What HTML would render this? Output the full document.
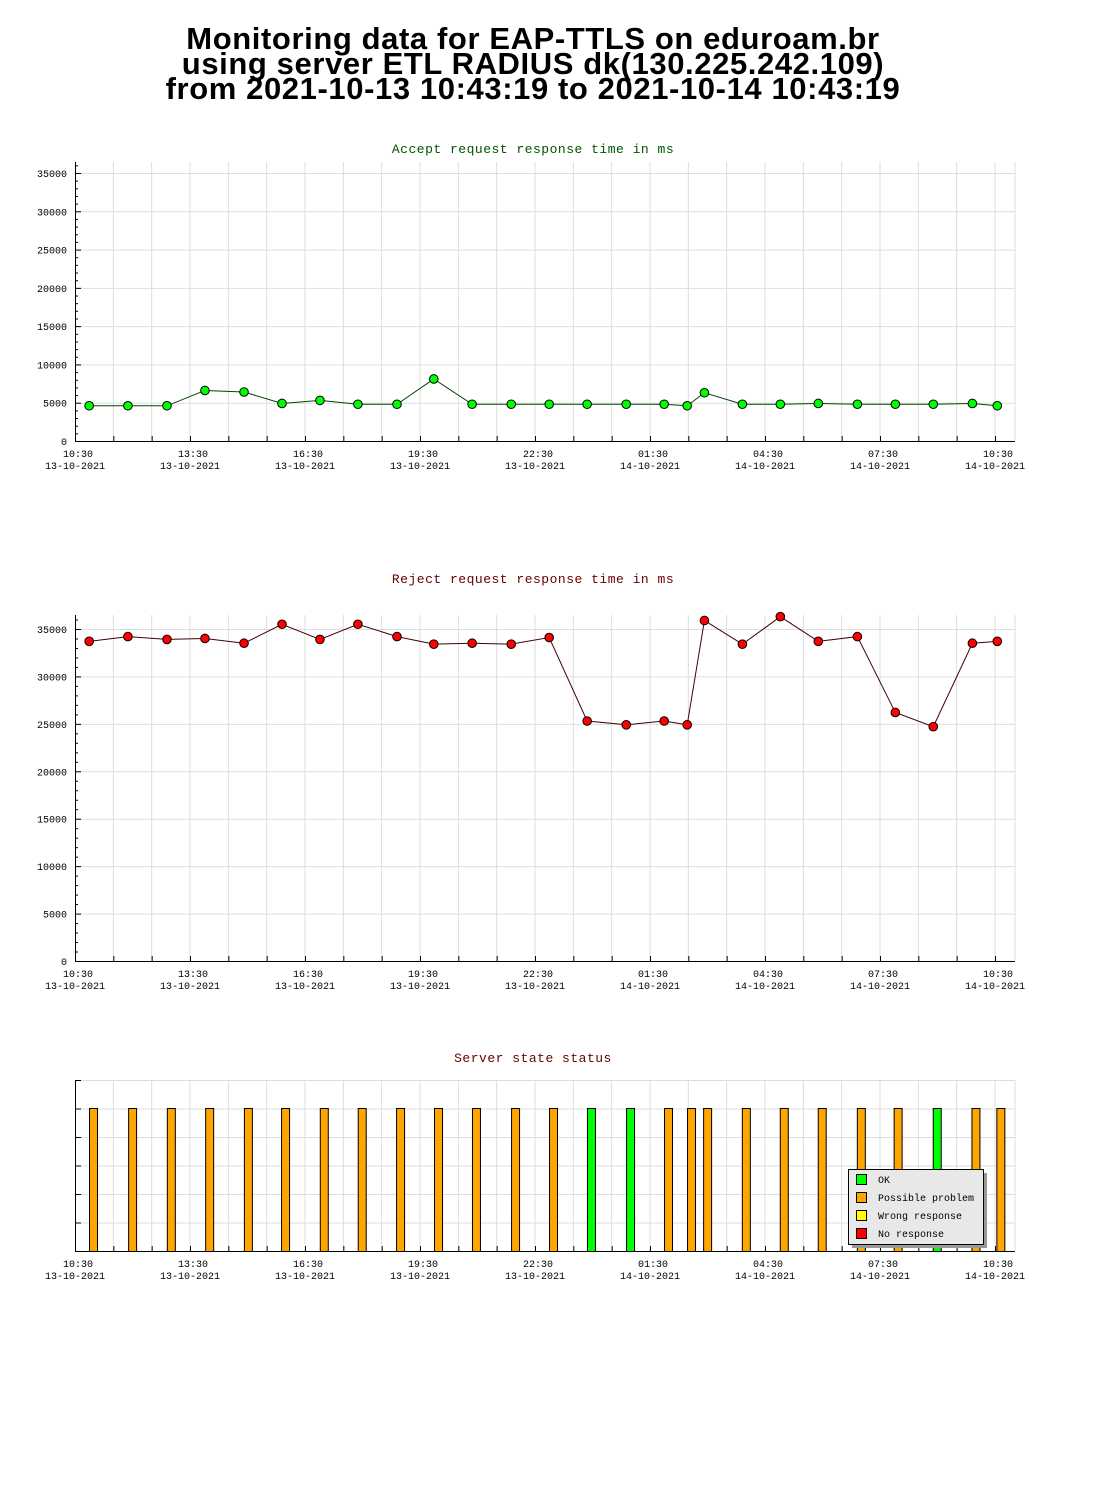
<!DOCTYPE html>
<html><head><meta charset="utf-8"><style>
body{margin:0;background:#fff;width:1100px;height:1500px;overflow:hidden}
svg{display:block}
.t{font-family:"Liberation Sans",sans-serif;font-weight:bold;font-size:31px;text-anchor:middle;letter-spacing:0.6px}
.m{font-family:"Liberation Mono",monospace;font-size:10px}
</style></head><body>
<svg id="s" width="1100" height="1500">
<text class="t" x="533" y="49">Monitoring data for EAP-TTLS on eduroam.br</text>
<text class="t" x="533" y="74">using server ETL RADIUS dk(130.225.242.109)</text>
<text class="t" x="533" y="99">from 2021-10-13 10:43:19 to 2021-10-14 10:43:19</text>
</svg>
<script>
// hours since 10:30 13-10-2021
const sampleHours=[0.37,1.38,2.40,3.39,4.41,5.40,6.39,7.38,8.40,9.36,10.36,11.38,12.37,13.36,14.38,15.37,15.97,16.42,17.41,18.40,19.39,20.41,21.40,22.39,23.41,24.06];
const acceptValues=[4600,4600,4600,6600,6400,4900,5300,4800,4800,8100,4800,4800,4800,4800,4800,4800,4600,6300,4800,4800,4900,4800,4800,4800,4900,4600];
const rejectValues=[33700,34200,33900,34000,33500,35500,33900,35500,34200,33400,33500,33400,34100,25300,24900,25300,24900,35900,33400,36300,33700,34200,26200,24700,33500,33700];
const statusHours=[0.47,1.49,2.50,3.50,4.51,5.48,6.49,7.48,8.48,9.47,10.46,11.48,12.47,13.46,14.48,15.47,16.07,16.49,17.50,18.49,19.48,20.50,21.46,22.48,23.49,24.14];
const statusValues=["P","P","P","P","P","P","P","P","P","P","P","P","P","OK","OK","P","P","P","P","P","P","P","P","OK","P","P"];
const xTickLabels=["10:30","13:30","16:30","19:30","22:30","01:30","04:30","07:30","10:30"];
const xTickDates=["13-10-2021","13-10-2021","13-10-2021","13-10-2021","13-10-2021","14-10-2021","14-10-2021","14-10-2021","14-10-2021"];
const yTicks=[0,5000,10000,15000,20000,25000,30000,35000];

const NS="http://www.w3.org/2000/svg",svg=document.getElementById("s");
function el(tag,at,parent,txt){const e=document.createElementNS(NS,tag);for(const k in at)e.setAttribute(k,at[k]);if(txt!=null)e.textContent=txt;(parent||svg).appendChild(e);return e;}
const X0=75,X1=1015,PXH=115/3;
const xs=h=>X0+h*PXH;

function frame(g,top,bottom,title,titleColor,titleY){
  const t=el("text",{x:533,y:titleY,"text-anchor":"middle",fill:titleColor,style:"font-family:'Liberation Mono',monospace;font-size:13px;letter-spacing:0.5px"},g,title);
  
  
  for(let h=1;h<=24.5;h++){if(xs(h)>X1)break;el("line",{x1:xs(h),x2:xs(h),y1:top,y2:bottom,stroke:"#ddd"},g);}
  el("line",{x1:X1,x2:X1,y1:top,y2:bottom,stroke:"#ddd"},g);
  for(let h=0;xs(h)<=X1;h++){el("line",{x1:xs(h)+.5,x2:xs(h)+.5,y1:bottom,y2:bottom-5,stroke:"#000"},g);}
  xTickLabels.forEach((l,i)=>{const x=xs(i*3);
    const a=el("text",{x:x+3,y:bottom+16,"text-anchor":"middle",class:"m"},g,l);
    
    const b=el("text",{x:x,y:bottom+28,"text-anchor":"middle",class:"m"},g,xTickDates[i]);
    });
}
function lineChart(name,top,bottom,y35,vals,lineColor,fill,title,titleColor,titleY){
  const g=el("g",{},svg);
  
  
  const ys=v=>bottom-v*(bottom-y35)/35000;
  frame(g,top,bottom,title,titleColor,titleY);
  yTicks.forEach(v=>{if(v>0)el("line",{x1:X0,x2:X1,y1:ys(v)+.5,y2:ys(v)+.5,stroke:"#ddd"},g);
    const t=el("text",{x:X0-8,y:ys(v)+4,"text-anchor":"end",class:"m"},g,String(v));
    });
  for(let v=0;v<=36000;v+=1000){const y=ys(v);if(y<top)break;el("line",{x1:X0,x2:X0+(v%5000?3:6),y1:y+.5,y2:y+.5,stroke:"#000"},g);}
  el("line",{x1:X0+.5,x2:X0+.5,y1:top,y2:bottom,stroke:"#000"},g);
  el("line",{x1:X0,x2:X1,y1:bottom+.5,y2:bottom+.5,stroke:"#000"},g);
  el("polyline",{points:vals.map((v,i)=>xs(sampleHours[i])+","+ys(v)).join(" "),fill:"none",stroke:lineColor,"stroke-width":1},g);
  vals.forEach((v,i)=>{const x=xs(sampleHours[i]),y=ys(v);
    const p=el("circle",{cx:x,cy:y,r:4.3,fill:fill,stroke:"#000","stroke-width":1},g);
    });
}
lineChart("accept-chart",162,441,173,acceptValues,"#004400","#00ff00","Accept request response time in ms","#005500",153);
lineChart("reject-chart",615,961,629,rejectValues,"#440000","#ff0000","Reject request response time in ms","#660000",583);

// status chart
const sg=el("g",{},svg);


const top3=1080,bot3=1251;
frame(sg,top3,bot3,"Server state status","#660000",1062);
for(let i=0;i<6;i++){const y=top3+i*28.5;el("line",{x1:X0,x2:X1,y1:y+.5,y2:y+.5,stroke:"#ddd"},sg);el("line",{x1:X0,x2:X0+6,y1:y+.5,y2:y+.5,stroke:"#000"},sg);}
el("line",{x1:X0+.5,x2:X0+.5,y1:top3,y2:bot3,stroke:"#000"},sg);
el("line",{x1:X0,x2:X1,y1:bot3+.5,y2:bot3+.5,stroke:"#000"},sg);
const colors={OK:"#00ff00",P:"#ffa500",W:"#ffff00",N:"#ff0000"};
statusValues.forEach((s,i)=>{const x=xs(statusHours[i]);
  const r=el("rect",{x:x-4+.5,y:1108.5,width:8,height:bot3-1108,fill:colors[s],stroke:"#000"},sg);
  });
const lg=el("g",{},svg);


el("rect",{x:852,y:1173,width:135,height:75,fill:"#999"},lg);
el("rect",{x:848.5,y:1169.5,width:135,height:75,fill:"#e8e8e8",stroke:"#000"},lg);
[["OK","#00ff00"],["Possible problem","#ffa500"],["Wrong response","#ffff00"],["No response","#ff0000"]].forEach((e,i)=>{
  const y=1174+i*18;
  el("rect",{x:856.5,y:y+.5,width:10,height:10,fill:e[1],stroke:"#000"},lg);
  const t=el("text",{x:878,y:y+9,class:"m"},lg,e[0]);
  });
</script>
</body></html>
